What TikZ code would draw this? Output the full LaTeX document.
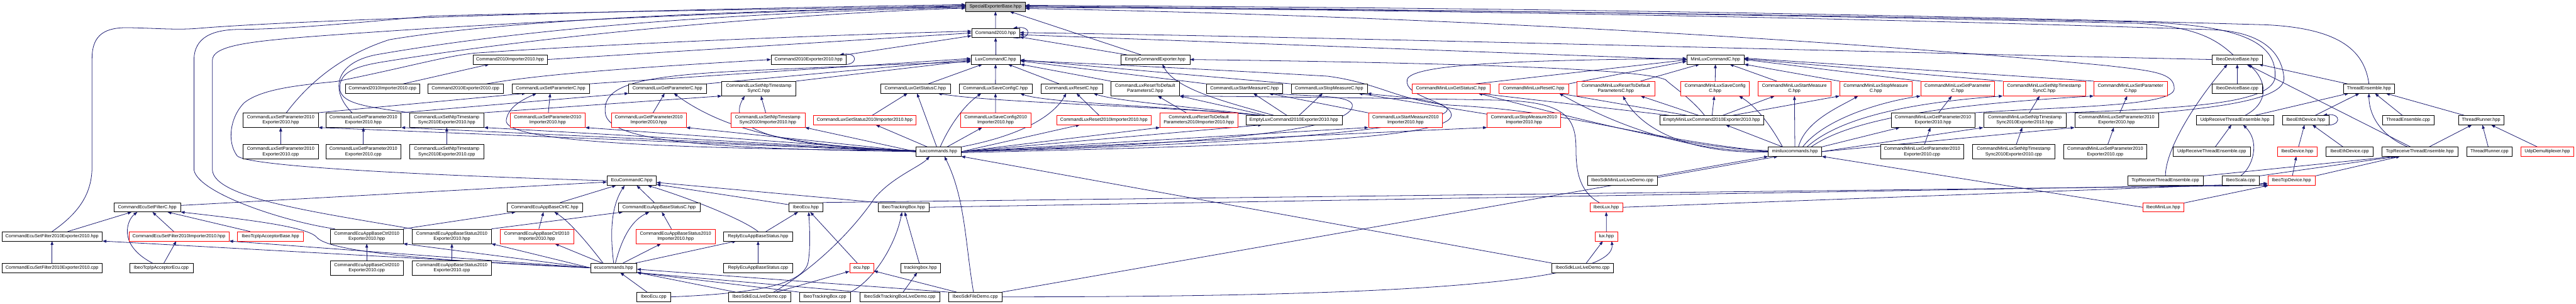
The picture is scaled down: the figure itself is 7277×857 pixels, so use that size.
\documentclass[tikz,border=0pt]{standalone}
\usepackage{fontspec}
\setmainfont{Liberation Sans}
\usetikzlibrary{arrows.meta,shadows}
\pgfdeclarelayer{background}
\pgfsetlayers{background,main}
\definecolor{edgec}{HTML}{191970}
\definecolor{redc}{HTML}{FF0000}
\definecolor{rootgray}{HTML}{BFBFBF}
\newcommand\mkbox[5]{\node[#1,minimum width=#4pt] (#2) at (#3) {#5};}
\newcommand\mkedge[2]{\draw[inc] (#1) -- (#2);}
\tikzset{
  nbase/.style={rectangle, line width=0.9pt, fill=white, inner xsep=2pt, inner ysep=0pt, align=center, font=\fontsize{13}{15}\selectfont},
  nblk/.style={nbase, draw=black, drop shadow={shadow xshift=1.3pt, shadow yshift=-1.3pt, fill=black!75, opacity=1}},
  nred/.style={nbase, draw=redc, drop shadow={shadow xshift=1.3pt, shadow yshift=-1.3pt, fill=redc!60, opacity=1}},
  nbs/.style={nblk, minimum height=26pt},
  nbd/.style={nblk, minimum height=41pt},
  nrs/.style={nred, minimum height=26pt},
  nrd/.style={nred, minimum height=41pt},
  inc/.style={draw=edgec, line width=1.4pt, -{Triangle[length=11pt,width=8pt]}}
}
\begin{document}
\begin{tikzpicture}[x=1pt,y=-1pt]
\useasboundingbox (0,0) rectangle (7277,857);
% row 0-2
\mkbox{nbs,fill=rootgray}{seb}{2812,19}{168}{SpecialExporterBase.hpp}
\mkbox{nbs}{c2010}{2812.5,93}{135}{Command2010.hpp}
\mkbox{nbs}{cimph}{1441,168}{210}{Command2010Importer2010.hpp}
\mkbox{nbs}{cexph}{2284,168}{212}{Command2010Exporter2010.hpp}
\mkbox{nbs}{luxc}{2812.5,168}{139}{LuxCommandC.hpp}
\mkbox{nbs}{ece}{3263.5,168}{195}{EmptyCommandExporter.hpp}
\mkbox{nbs}{miniluxc}{4846,168}{162}{MiniLuxCommandC.hpp}
\mkbox{nbs}{idbh}{6320,168}{142}{IbeoDeviceBase.hpp}
% row 3
\mkbox{nbs}{cimpc}{1080.5,250}{211}{Command2010Importer2010.cpp}
\mkbox{nbs}{cexpc}{1315,250}{212}{Command2010Exporter2010.cpp}
\mkbox{nbs}{lsetpc}{1555.5,250}{219}{CommandLuxSetParameterC.hpp}
\mkbox{nbs}{lgetpc}{1885.5,250}{219}{CommandLuxGetParameterC.hpp}
\mkbox{nbd}{lntpc}{2143.5,250}{209}{CommandLuxSetNtpTimestamp\\SyncC.hpp}
\mkbox{nbs}{lstatc}{2585.5,250}{197}{CommandLuxGetStatusC.hpp}
\mkbox{nbs}{lsavec}{2812,250}{206}{CommandLuxSaveConfigC.hpp}
\mkbox{nbs}{lresetc}{3027,250}{174}{CommandLuxResetC.hpp}
\mkbox{nbd}{lrtdc}{3235,250}{194}{CommandLuxResetToDefault\\ParametersC.hpp}
\mkbox{nbs}{lstartc}{3515.5,250}{215}{CommandLuxStartMeasureC.hpp}
\mkbox{nbs}{lstopc}{3754.5,250}{215}{CommandLuxStopMeasureC.hpp}
\mkbox{nrs}{mstatc}{4099,250}{220}{CommandMiniLuxGetStatusC.hpp}
\mkbox{nrs}{mresetc}{4332.5,250}{197}{CommandMiniLuxResetC.hpp}
\mkbox{nrd}{mrtdc}{4564.5,250}{219}{CommandMiniLuxResetToDefault\\ParametersC.hpp}
\mkbox{nrd}{msavec}{4845,250}{194}{CommandMiniLuxSaveConfig\\C.hpp}
\mkbox{nrd}{mstartc}{5069,250}{206}{CommandMiniLuxStartMeasure\\C.hpp}
\mkbox{nrd}{mstopc}{5299,250}{204}{CommandMiniLuxStopMeasure\\C.hpp}
\mkbox{nrd}{mgetpc}{5530,250}{208}{CommandMiniLuxGetParameter\\C.hpp}
\mkbox{nrd}{mntpc}{5774.5,250}{233}{CommandMiniLuxSetNtpTimestamp\\SyncC.hpp}
\mkbox{nrd}{msetpc}{6018.5,250}{207}{CommandMiniLuxSetParameter\\C.hpp}
\mkbox{nbs}{idbc}{6320,250}{142}{IbeoDeviceBase.cpp}
\mkbox{nbs}{teh}{6692,250}{144}{ThreadEnsemble.hpp}
% row 4
\mkbox{nbd}{lsetpexph}{793,339}{212}{CommandLuxSetParameter2010\\Exporter2010.hpp}
\mkbox{nbd}{lgetpexph}{1026.5,339}{213}{CommandLuxGetParameter2010\\Exporter2010.hpp}
\mkbox{nbd}{lntpexph}{1262,339}{210}{CommandLuxSetNtpTimestamp\\Sync2010Exporter2010.hpp}
\mkbox{nrd}{lsetpimp}{1547,339}{212}{CommandLuxSetParameter2010\\Importer2010.hpp}
\mkbox{nrd}{lgetpimp}{1832.5,339}{211}{CommandLuxGetParameter2010\\Importer2010.hpp}
\mkbox{nrd}{lntpimp}{2169,339}{210}{CommandLuxSetNtpTimestamp\\Sync2010Importer2010.hpp}
\mkbox{nrs}{lstatimp}{2442.5,339}{291}{CommandLuxGetStatus2010Importer2010.hpp}
\mkbox{nrd}{lsaveimp}{2812.5,339}{199}{CommandLuxSaveConfig2010\\Importer2010.hpp}
\mkbox{nrs}{lresetimp}{3118.5,339}{267}{CommandLuxReset2010Importer2010.hpp}
\mkbox{nrd}{lrtdimp}{3386.5,339}{219}{CommandLuxResetToDefault\\Parameters2010Importer2010.hpp}
\mkbox{nbs}{emptylux}{3655,339}{272}{EmptyLuxCommand2010Exporter2010.hpp}
\mkbox{nrd}{lstartimp}{3970.5,339}{209}{CommandLuxStartMeasure2010\\Importer2010.hpp}
\mkbox{nrd}{lstopimp}{4305,339}{208}{CommandLuxStopMeasure2010\\Importer2010.hpp}
\mkbox{nbs}{emptymini}{4835,339}{294}{EmptyMiniLuxCommand2010Exporter2010.hpp}
\mkbox{nbd}{mgetpexph}{5460.5,339}{237}{CommandMiniLuxGetParameter2010\\Exporter2010.hpp}
\mkbox{nbd}{mntpexph}{5720,339}{234}{CommandMiniLuxSetNtpTimestamp\\Sync2010Exporter2010.hpp}
\mkbox{nbd}{msetpexph}{5979,339}{236}{CommandMiniLuxSetParameter2010\\Exporter2010.hpp}
\mkbox{nbs}{udpteh}{6313.5,339}{217}{UdpReceiveThreadEnsemble.hpp}
\mkbox{nbs}{ethh}{6513.5,339}{133}{IbeoEthDevice.hpp}
\mkbox{nbs}{tec}{6803,339}{144}{ThreadEnsemble.cpp}
\mkbox{nbs}{trh}{7009,339}{128}{ThreadRunner.hpp}
% row 5
\mkbox{nbd}{lsetpexpc}{793,428}{212}{CommandLuxSetParameter2010\\Exporter2010.cpp}
\mkbox{nbd}{lgetpexpc}{1026.5,428}{213}{CommandLuxGetParameter2010\\Exporter2010.cpp}
\mkbox{nbd}{lntpexpc}{1262,428}{210}{CommandLuxSetNtpTimestamp\\Sync2010Exporter2010.cpp}
\mkbox{nbs}{luxcmds}{2651,428}{128}{luxcommands.hpp}
\mkbox{nbs}{minicmds}{5070.5,428}{151}{miniluxcommands.hpp}
\mkbox{nbd}{mgetpexpc}{5429.5,428}{235}{CommandMiniLuxGetParameter2010\\Exporter2010.cpp}
\mkbox{nbd}{mntpexpc}{5688.5,428}{233}{CommandMiniLuxSetNtpTimestamp\\Sync2010Exporter2010.cpp}
\mkbox{nbd}{msetpexpc}{5947,428}{234}{CommandMiniLuxSetParameter2010\\Exporter2010.cpp}
\mkbox{nbs}{udptec}{6248,428}{218}{UdpReceiveThreadEnsemble.cpp}
\mkbox{nrs}{devh}{6489.5,428}{113}{IbeoDevice.hpp}
\mkbox{nbs}{ethc}{6637.5,428}{133}{IbeoEthDevice.cpp}
\mkbox{nbs}{tcpteh}{6836,428}{214}{TcpReceiveThreadEnsemble.hpp}
\mkbox{nbs}{trc}{7032.5,428}{129}{ThreadRunner.cpp}
\mkbox{nrs}{udpdemux}{7196,428}{150}{UdpDemultiplexer.hpp}
% row 6
\mkbox{nbs}{ecuc}{1784.5,510}{139}{EcuCommandC.hpp}
\mkbox{nbs}{minidemo}{4583,510}{198}{IbeoSdkMiniLuxLiveDemo.cpp}
\mkbox{nbs}{tcptec}{6117,510}{214}{TcpReceiveThreadEnsemble.cpp}
\mkbox{nbs}{scala}{6329.5,510}{105}{IbeoScala.cpp}
\mkbox{nrs}{tcpdev}{6473,510}{134}{IbeoTcpDevice.hpp}
% row 7
\mkbox{nbs}{esetfc}{416,585}{188}{CommandEcuSetFilterC.hpp}
\mkbox{nbs}{ectrlc}{1539,585}{214}{CommandEcuAppBaseCtrlC.hpp}
\mkbox{nbs}{estatc}{1862,585}{230}{CommandEcuAppBaseStatusC.hpp}
\mkbox{nbs}{ecuh}{2276.5,585}{95}{IbeoEcu.hpp}
\mkbox{nbs}{tbh}{2552,585}{144}{IbeoTrackingBox.hpp}
\mkbox{nrs}{luxh}{4537.5,585}{93}{IbeoLux.hpp}
\mkbox{nrs}{minih}{6111,585}{116}{IbeoMiniLux.hpp}
% row 8
\mkbox{nbs}{esetfexph}{147,667}{284}{CommandEcuSetFilter2010Exporter2010.hpp}
\mkbox{nrs}{esetfimp}{505.5,667}{283}{CommandEcuSetFilter2010Importer2010.hpp}
\mkbox{nrs}{accbase}{764,667}{186}{IbeoTcpIpAcceptorBase.hpp}
\mkbox{nbd}{ectrlexph}{1036,667}{206}{CommandEcuAppBaseCtrl2010\\Exporter2010.hpp}
\mkbox{nbd}{estatexph}{1276.5,667}{223}{CommandEcuAppBaseStatus2010\\Exporter2010.hpp}
\mkbox{nrd}{ectrlimp}{1516.5,667}{207}{CommandEcuAppBaseCtrl2010\\Importer2010.hpp}
\mkbox{nrd}{estatimp}{1908.5,667}{223}{CommandEcuAppBaseStatus2010\\Importer2010.hpp}
\mkbox{nbs}{replyh}{2141.5,667}{195}{ReplyEcuAppBaseStatus.hpp}
\mkbox{nrs}{luxlh}{4538,667}{64}{lux.hpp}
% row 9
\mkbox{nbs}{esetfexpc}{147,756}{284}{CommandEcuSetFilter2010Exporter2010.cpp}
\mkbox{nbs}{accecu}{455.5,756}{179}{IbeoTcpIpAcceptorEcu.cpp}
\mkbox{nbd}{ectrlexpc}{1036,756}{206}{CommandEcuAppBaseCtrl2010\\Exporter2010.cpp}
\mkbox{nbd}{estatexpc}{1276.5,756}{223}{CommandEcuAppBaseStatus2010\\Exporter2010.cpp}
\mkbox{nbs}{ecucmds}{1733.5,756}{131}{ecucommands.hpp}
\mkbox{nbs}{replyc}{2141.5,756}{195}{ReplyEcuAppBaseStatus.cpp}
\mkbox{nrs}{ecul}{2434,756}{68}{ecu.hpp}
\mkbox{nbs}{tbl}{2600.5,756}{113}{trackingbox.hpp}
\mkbox{nbs}{luxdemo}{4471,756}{174}{IbeoSdkLuxLiveDemo.cpp}
% row 10
\mkbox{nbs}{ecucpp}{1846.5,838}{95}{IbeoEcu.cpp}
\mkbox{nbs}{ecudemo}{2145.5,838}{177}{IbeoSdkEcuLiveDemo.cpp}
\mkbox{nbs}{tbcpp}{2330,838}{144}{IbeoTrackingBox.cpp}
\mkbox{nbs}{tbdemo}{2541.5,838}{225}{IbeoSdkTrackingBoxLiveDemo.cpp}
\mkbox{nbs}{filedemo}{2755,838}{150}{IbeoSdkFileDemo.cpp}

\begin{pgfonlayer}{background}
\fill[white] (0,0) rectangle (7277,857);
% ---- core
\mkedge{c2010}{seb}
\mkedge{ece}{seb}
\mkedge{ece}{c2010}
\mkedge{luxc}{c2010}
\mkedge{cimph.east}{c2010.west}
\mkedge{cexph.north east}{[yshift=-8pt]c2010.west}
\mkedge{cimpc}{cimph}
\draw[inc] ([xshift=60pt]cexpc.north) .. controls (1550,205) and (1900,185) .. (cexph.west);
\mkedge{miniluxc.west}{[yshift=-5pt]c2010.east}
\draw[inc] (idbh.west) .. controls (5400,150) and (3800,105) .. ([yshift=1pt]c2010.east);
\draw[inc] ([xshift=-18pt]c2010.south east) .. controls (2916,114) and (2916,72) .. ([xshift=-18pt]c2010.north east);
\draw[inc] ([xshift=-18pt]cexph.south east) .. controls (2426,189) and (2426,147) .. ([xshift=-18pt]cexph.north east);
\draw[inc] ([xshift=-18pt]ethh.south east) .. controls (6616,360) and (6616,318) .. ([xshift=-18pt]ethh.north east);
% ---- long edges to SpecialExporterBase from the left
\draw[inc] (esetfexph.north) .. controls (225,600) and (260,545) .. (260,470) -- (260,165) .. controls (260,95) and (300,78) .. (360,78) .. controls (450,80) and (500,85) .. (560,80) .. controls (900,52) and (2000,24) .. ([yshift=6pt]seb.west);
\draw[inc] ([xshift=-90pt]ectrlexph.north) .. controls (800,625) and (560,545) .. (548,480) -- (548,170) .. controls (548,105) and (600,83) .. (680,83) .. controls (800,82) and (950,70) .. (1220,45) .. controls (1800,30) and (2400,24) .. ([yshift=4pt]seb.west);
\draw[inc] (estatexph.north west) .. controls (900,600) and (605,560) .. (600,480) -- (600,170) .. controls (600,130) and (700,118) .. (856,105) .. controls (1500,55) and (2300,28) .. ([yshift=2pt]seb.west);
\draw[inc] ([xshift=16pt]lsetpexph.north) .. controls (860,250) and (950,160) .. (1100,112) .. controls (1500,45) and (2300,26) .. (seb.west);
\draw[inc] ([xshift=-32pt]lgetpexph.north) .. controls (935,260) and (940,180) .. (1060,155) .. controls (1600,60) and (2300,30) .. ([yshift=-2pt]seb.west);
\draw[inc] (lntpexph.north west) .. controls (1020,300) and (958,290) .. (960,245) .. controls (962,205) and (1000,188) .. (1080,175) .. controls (1600,90) and (2300,36) .. ([yshift=-4pt]seb.west);
% ---- long edges to SpecialExporterBase from the right
\draw[inc] (mgetpexph.north east) .. controls (5850,300) and (6142,300) .. (6142,250) .. controls (6142,205) and (6080,200) .. (5950,185) .. controls (5000,95) and (3800,40) .. ([yshift=-5pt]seb.east);
\draw[inc] (mntpexph.north east) .. controls (6200,305) and (6425,290) .. (6427,215) .. controls (6430,120) and (6330,70) .. (6040,62) .. controls (5000,38) and (3800,26) .. ([yshift=-2pt]seb.east);
\draw[inc] (msetpexph.north east) .. controls (6300,300) and (6455,275) .. (6452,220) .. controls (6445,140) and (6380,90) .. (6253,84) .. controls (5000,42) and (3800,28) .. (seb.east);
\draw[inc] ([xshift=-12pt]idbh.north) .. controls (6260,110) and (6200,75) .. (6040,66) .. controls (5000,40) and (3800,25) .. ([yshift=2pt]seb.east);
\draw[inc] (teh.north) .. controls (6680,150) and (6620,80) .. (6400,70) .. controls (5000,30) and (3800,20) .. ([yshift=4pt]seb.east);
% ---- EcuCommandC to Command2010
\draw[inc] (ecuc.west) .. controls (1200,495) and (700,470) .. (670,440) .. controls (640,400) and (650,330) .. (690,290) .. controls (740,250) and (850,240) .. (950,230) .. controls (1150,190) and (1250,160) .. (1340,150) .. controls (1700,125) and (2300,100) .. ([yshift=5pt]c2010.west);
% ---- Lux commands
\mkedge{lsetpc.north east}{[yshift=3pt]luxc.west}
\mkedge{lgetpc.north east}{luxc.west}
\mkedge{lntpc.north east}{[yshift=-3pt]luxc.west}
\mkedge{lstatc}{luxc}
\mkedge{lsavec}{luxc}
\mkedge{lresetc}{luxc}
\mkedge{lrtdc.north west}{luxc.south east}
\mkedge{lstartc.north west}{[yshift=-4pt]luxc.east}
\mkedge{lstopc.north west}{[yshift=-1pt]luxc.east}
\mkedge{lsetpexph.north east}{[xshift=40pt]lsetpc.south west}
\mkedge{lgetpexph.north east}{lgetpc.south west}
\mkedge{lntpexph.north east}{lntpc.south west}
\mkedge{lsetpimp}{lsetpc}
\mkedge{lgetpimp}{lgetpc}
\mkedge{lntpimp}{lntpc}
\mkedge{lsetpexpc}{lsetpexph}
\mkedge{lgetpexpc}{lgetpexph}
\mkedge{lntpexpc}{lntpexph}
\mkedge{lstatimp}{lstatc}
\mkedge{lsaveimp}{lsavec}
\mkedge{lresetimp}{lresetc}
\mkedge{lrtdimp}{lrtdc}
\mkedge{lstartimp}{lstartc}
\mkedge{lstopimp}{lstopc}
\draw[inc] ([xshift=-57pt]emptylux.north) .. controls (3450,285) and (3320,250) .. ([xshift=20pt]ece.south);
\draw[inc] ([xshift=-95pt]emptylux.north) .. controls (3300,300) and (2800,290) .. ([xshift=64pt]lstatc.south);
\draw[inc] ([xshift=-95pt]emptylux.north) .. controls (3300,300) and (2950,290) .. ([xshift=70pt]lsavec.south);
\draw[inc] ([xshift=-95pt]emptylux.north) .. controls (3350,300) and (3150,285) .. ([xshift=62pt]lresetc.south);
\mkedge{[xshift=-80pt]emptylux.north}{lrtdc.south east}
\mkedge{[xshift=-20pt]emptylux.north}{[xshift=25pt]lstartc.south}
\mkedge{[xshift=15pt]emptylux.north}{[xshift=-18pt]lstopc.south}
% luxcommands
\mkedge{luxcmds.west}{lsetpexph.south east}
\mkedge{luxcmds.west}{lgetpexph.south east}
\mkedge{luxcmds.west}{lntpexph.south east}
\mkedge{luxcmds.west}{lsetpimp.south east}
\mkedge{luxcmds.west}{lgetpimp.south east}
\mkedge{luxcmds.west}{lntpimp.south east}
\draw[inc] (luxcmds.west) .. controls (2000,420) and (1720,400) .. (1710,320) .. controls (1700,240) and (1800,215) .. (2100,200) .. controls (2400,186) and (2600,180) .. ([yshift=-6pt]luxc.west);
\draw[inc] ([yshift=3pt]luxcmds.west) .. controls (1800,420) and (1425,395) .. (1430,340) .. controls (1435,300) and (1480,280) .. ([xshift=-40pt]lsetpc.south);
\draw[inc] ([yshift=3pt]luxcmds.west) .. controls (2250,415) and (2050,370) .. ([xshift=18pt]lgetpc.south);
\draw[inc] ([yshift=3pt]luxcmds.west) .. controls (2250,415) and (2040,380) .. ([xshift=-40pt]lntpc.south);
\mkedge{luxcmds}{lstatimp}
\mkedge{luxcmds}{lstatc}
\draw[inc] ([xshift=5pt]luxcmds.north) .. controls (2680,360) and (2720,300) .. ([xshift=-40pt]lsavec.south);
\mkedge{luxcmds}{lsaveimp}
\draw[inc] (luxcmds.north east) .. controls (2900,380) and (2980,320) .. ([xshift=-15pt]lresetc.south);
\mkedge{luxcmds.east}{[xshift=-68pt]lresetimp.south}
\mkedge{luxcmds.east}{lrtdimp.south west}
\mkedge{luxcmds.east}{[xshift=-90pt]emptylux.south}
\mkedge{luxcmds.east}{lstartimp.south west}
\mkedge{luxcmds.east}{lstopimp.south west}
\draw[inc] (luxcmds.east) .. controls (3500,405) and (3830,360) .. (3820,295) .. controls (3812,268) and (3700,272) .. ([xshift=70pt]lstartc.south);
\draw[inc] (luxcmds.east) .. controls (3900,400) and (4140,330) .. (4080,300) .. controls (4030,275) and (3900,270) .. (lstopc.south east);
\draw[inc] ([yshift=-3pt]luxcmds.east) .. controls (3500,412) and (4100,395) .. (4100,325) .. controls (4100,285) and (3965,275) .. (3975,225) .. controls (3985,180) and (4300,170) .. ([yshift=3pt]miniluxc.west);
\draw[inc] ([xshift=-20pt]luxh.north) .. controls (4460,540) and (4452,480) .. (4452,420) .. controls (4452,330) and (4420,290) .. (4250,283) .. controls (3900,276) and (3450,272) .. (lrtdc.south east);
% ---- MiniLux commands
\mkedge{[xshift=70pt]mstatc.north}{[yshift=-1pt]miniluxc.west}
\mkedge{mresetc.north east}{[yshift=-5pt]miniluxc.west}
\mkedge{[xshift=70pt]mrtdc.north}{[xshift=-45pt]miniluxc.south}
\mkedge{msavec}{miniluxc}
\mkedge{[xshift=-50pt]mstartc.north}{[xshift=40pt]miniluxc.south}
\mkedge{mstopc.north west}{miniluxc.south east}
\mkedge{mgetpc.north west}{miniluxc.east}
\mkedge{mntpc.north west}{[yshift=2pt]miniluxc.east}
\mkedge{msetpc.north west}{[yshift=4pt]miniluxc.east}
\mkedge{mgetpexph}{mgetpc}
\mkedge{mntpexph}{mntpc}
\mkedge{msetpexph}{msetpc}
\mkedge{mgetpexpc}{mgetpexph}
\mkedge{mntpexpc}{mntpexph}
\mkedge{msetpexpc}{msetpexph}
\draw[inc] ([xshift=-20pt]emptymini.north) .. controls (4780,280) and (4720,240) .. (4705,225) .. controls (4650,200) and (4300,180) .. (ece.east);
\mkedge{[xshift=-120pt]emptymini.north}{[xshift=77pt]mstatc.south}
\mkedge{[xshift=-70pt]emptymini.north}{[xshift=72pt]mresetc.south}
\mkedge{[xshift=-37pt]emptymini.north}{[xshift=70pt]mrtdc.south}
\mkedge{emptymini}{msavec}
\mkedge{[xshift=32pt]emptymini.north}{[xshift=-56pt]mstartc.south}
\mkedge{[xshift=60pt]emptymini.north}{mstopc.south west}
\draw[inc] ([xshift=-35pt]minicmds.north) .. controls (5000,350) and (4960,300) .. ([xshift=-30pt]msavec.south east);
\mkedge{minicmds}{mstartc}
\draw[inc] ([xshift=10pt]minicmds.north) .. controls (5100,340) and (5200,300) .. ([xshift=-50pt]mstopc.south);
\draw[inc] ([xshift=22pt]minicmds.north) .. controls (5150,340) and (5300,290) .. (mgetpc.south west);
\draw[inc] ([xshift=34pt]minicmds.north) .. controls (5200,330) and (5400,290) .. (mntpc.south west);
\draw[inc] ([xshift=46pt]minicmds.north) .. controls (5250,320) and (5600,290) .. (msetpc.south west);
\mkedge{minicmds.north east}{[xshift=25pt]mgetpexph.south west}
\mkedge{minicmds.east}{mntpexph.south west}
\mkedge{minicmds.east}{msetpexph.south west}
\mkedge{[xshift=-35pt]minicmds.north}{[xshift=40pt]emptymini.south}
\draw[inc] ([yshift=3pt]minicmds.west) .. controls (4800,420) and (4550,360) .. ([xshift=77pt]mstatc.south);
\draw[inc] ([yshift=1pt]minicmds.west) .. controls (4750,430) and (4540,340) .. ([xshift=72pt]mresetc.south);
\draw[inc] ([yshift=-1pt]minicmds.west) .. controls (4780,435) and (4640,370) .. ([xshift=20pt]mrtdc.south);
\draw[inc] (minicmds.west) .. controls (4600,385) and (4450,315) .. (4100,297) .. controls (3950,285) and (3900,235) .. (3750,215) .. controls (3400,195) and (3050,178) .. ([yshift=-3pt]luxc.east);
% ---- devices and threads
\mkedge{idbc}{idbh}
\draw[inc] ([xshift=29pt]udpteh.north) .. controls (6410,290) and (6405,230) .. ([xshift=32pt]idbh.south);
\draw[inc] (tcptec.north) .. controls (6118,420) and (6200,290) .. ([xshift=-28pt]idbh.south);
\mkedge{tcpteh}{idbh}
\mkedge{teh}{idbh}
\mkedge{udpteh}{teh}
\mkedge{ethh}{teh}
\mkedge{tec}{teh}
\mkedge{trh}{teh}
\draw[inc] ([xshift=-35pt]tcpteh.north) .. controls (6720,380) and (6692,320) .. (teh.south);
\mkedge{tcpteh}{trh}
\mkedge{trc}{trh}
\mkedge{udpdemux}{trh}
\mkedge{devh}{ethh}
\mkedge{ethc}{ethh}
\mkedge{udptec}{udpteh}
\draw[inc] (scala.north) .. controls (6365,470) and (6385,400) .. ([xshift=23pt]udpteh.south);
\mkedge{tcptec.north east}{[xshift=-70pt]tcpteh.south}
\mkedge{scala.north east}{[xshift=-64pt]tcpteh.south}
\mkedge{tcpdev.north east}{[xshift=-56pt]tcpteh.south}
\mkedge{tcpdev}{devh}
\mkedge{minih}{tcpdev}
\mkedge{luxh.east}{[yshift=6pt]tcpdev.south west}
\mkedge{tbh.east}{[yshift=3pt]tcpdev.south west}
\mkedge{ecuh.north east}{tcpdev.south west}
\mkedge{minih.west}{minicmds.south east}
\mkedge{minidemo.north east}{minicmds.south west}
\mkedge{filedemo.north east}{[xshift=-48pt]minicmds.south}
\mkedge{luxlh}{luxh}
\mkedge{luxdemo}{luxlh}
\mkedge{luxdemo.north west}{luxcmds.south east}
\draw[inc] (filedemo.east) .. controls (3800,838) and (4565,810) .. ([xshift=15pt]luxlh.south);
\draw[inc] ([xshift=-5pt]filedemo.north) .. controls (2727,690) and (2727,560) .. ([xshift=17pt]luxcmds.south);
\draw[inc] ([xshift=40pt]ecudemo.north) .. controls (2330,740) and (2430,620) .. (2470,560) .. controls (2520,500) and (2600,470) .. ([xshift=-25pt]luxcmds.south);
% ---- Ecu
\mkedge{esetfc}{ecuc}
\mkedge{ectrlc}{ecuc}
\mkedge{estatc}{ecuc}
\mkedge{ecuh}{ecuc}
\mkedge{tbh.north west}{[yshift=-5pt]ecuc.east}
\draw[inc] (ecucmds.north) .. controls (1722,650) and (1728,580) .. ([xshift=-20pt]ecuc.south);
\draw[inc] (replyh.north) .. controls (2100,620) and (1950,560) .. ([xshift=45pt]ecuc.south);
\mkedge{esetfexph}{esetfc}
\mkedge{esetfimp}{esetfc}
\mkedge{accbase}{esetfc}
\draw[inc] ([xshift=-25pt]accecu.north) .. controls (330,690) and (360,620) .. ([xshift=-28pt]esetfc.south);
\mkedge{accecu}{esetfimp}
\mkedge{esetfexpc}{esetfexph}
\draw[inc] (ecucmds.west) .. controls (1200,735) and (930,710) .. (895,670) .. controls (870,640) and (700,620) .. (esetfc.south east);
\mkedge{ecucmds.west}{esetfexph.south east}
\mkedge{ecucmds.west}{esetfimp.south east}
\mkedge{ecucmds.west}{ectrlexph.south east}
\mkedge{ecucmds.west}{estatexph.south east}
\mkedge{ectrlexph.north east}{[xshift=25pt]ectrlc.south west}
\mkedge{estatexph.north east}{[xshift=13pt]estatc.south west}
\mkedge{ectrlexpc}{ectrlexph}
\mkedge{estatexpc}{estatexph}
\mkedge{ectrlimp}{ectrlc}
\mkedge{estatimp}{estatc}
\draw[inc] ([xshift=-30pt]ecucmds.north) .. controls (1640,660) and (1600,620) .. ([xshift=27pt]ectrlc.south);
\draw[inc] ([xshift=5pt]ecucmds.north) .. controls (1760,660) and (1790,620) .. ([xshift=-28pt]estatc.south);
\mkedge{ecucmds}{ectrlimp}
\mkedge{ecucmds}{estatimp}
\mkedge{ecucmds}{replyh}
\mkedge{replyc}{replyh}
\mkedge{replyh}{ecuh}
\mkedge{ecucpp}{ecucmds}
\draw[inc] (ecucpp.east) .. controls (2150,828) and (2270,800) .. (2283,740) .. controls (2290,700) and (2287,640) .. ([xshift=8pt]ecuh.south);
\mkedge{ecudemo}{ecucmds}
\mkedge{ecudemo}{ecul}
\mkedge{tbcpp.north west}{ecucmds.south east}
\draw[inc] (tbcpp.north east) .. controls (2470,790) and (2530,690) .. ([xshift=-4pt]tbh.south);
\mkedge{ecul}{ecuh}
\mkedge{tbl}{tbh}
\mkedge{tbdemo}{tbl}
\mkedge{tbdemo.north west}{ecucmds.south east}
\mkedge{filedemo.north west}{[yshift=-4pt]ecucmds.east}
\mkedge{filedemo}{ecul}
\end{pgfonlayer}
\end{tikzpicture}
\end{document}
